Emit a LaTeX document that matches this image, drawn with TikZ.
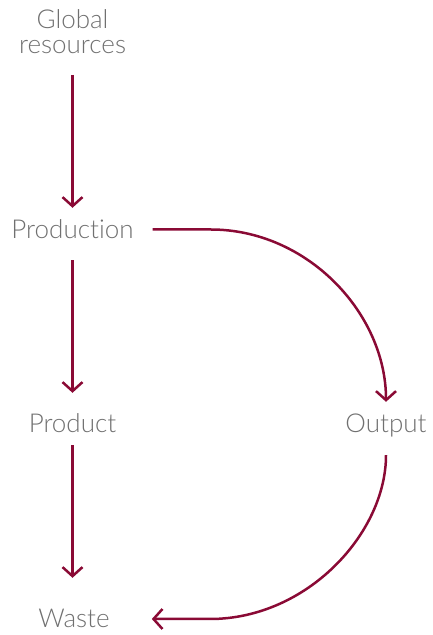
\documentclass[tikz,border=0pt]{standalone}
\usepackage{fontspec}
\setmainfont{Lato Light}[Ligatures={NoCommon}]
\usetikzlibrary{arrows.meta}
\definecolor{flowred}{HTML}{8A0A35}
\definecolor{labelgrey}{HTML}{707070}
\begin{document}
\begin{tikzpicture}[x=1pt,y=1pt,
  label/.style={text=labelgrey,font=\fontsize{26}{25}\selectfont,inner sep=0pt,align=center,text depth=0pt},
  oneline/.style={label,text height=19pt,anchor=base},
  flow/.style={draw=flowred,line width=2.5pt,-{Straight Barb[length=9pt,width=20pt,line width=2.5pt]}}]
  \useasboundingbox (0,0) rectangle (432,635);
  % stages of the material flow
  \node[label,anchor=south] (glob) at (72.5,581) {Global\\resources};
  \node[oneline] (prod) at (72.5,396) {Production};
  \node[oneline] (product) at (72.5,202) {Product};
  \node[oneline] (out) at (386,202) {Output};
  \node[oneline] (waste) at (74,7) {Waste};
  % lower bend of the side loop
  \coordinate (bendB) at (210,16);
  % straight chain
  \draw[flow,shorten <=21pt,shorten >=12pt] (glob.south) -- (prod.north);
  \draw[flow,shorten <=21pt,shorten >=21pt] (prod.south) -- (product.north);
  \draw[flow,shorten <=12pt,shorten >=31pt] (product.south) -- (product.south |- waste.north);
  % side loop through the output
  \draw[flow,shorten <=19pt,shorten >=12pt] (prod.east) -- ++(77,0)
    .. controls +(97,0) and +(0,100) .. (out.north);
  \draw[flow,shorten <=22pt,shorten >=42pt] (out.south)
    .. controls +(0,-100) and +(97,0) .. (bendB) -- (bendB -| waste.east);
\end{tikzpicture}
\end{document}
